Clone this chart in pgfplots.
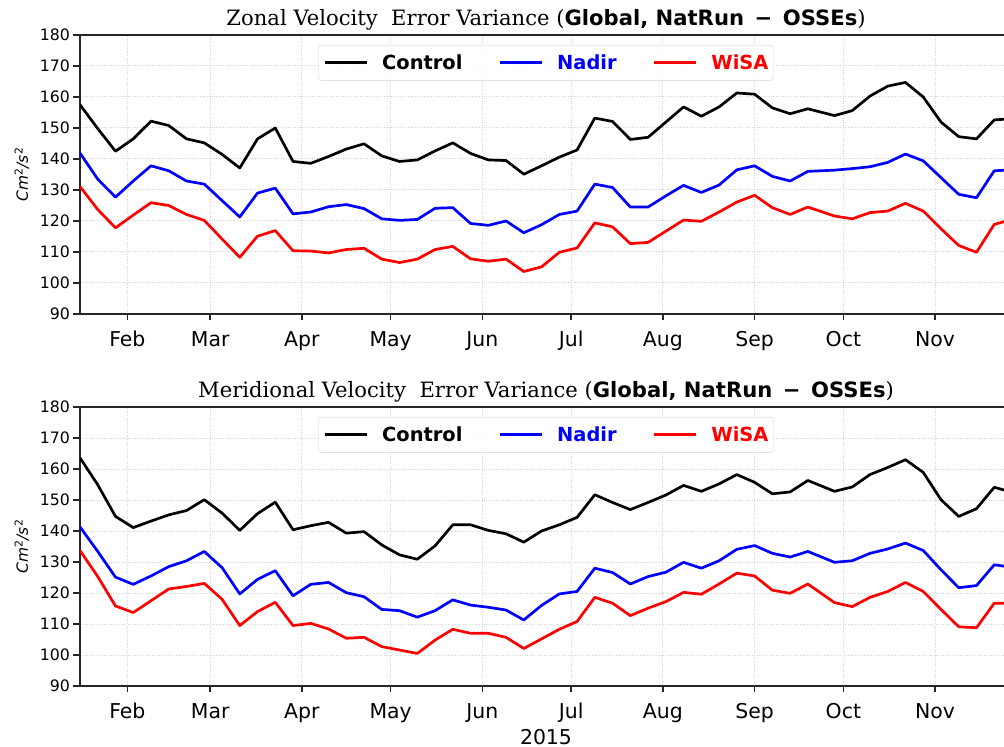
\documentclass[border=0pt]{standalone}
\usepackage{fontspec}
\setmainfont{DejaVu Sans}
\newfontfamily\seriffont{DejaVu Serif}
\usepackage{pgfplots}
\pgfplotsset{compat=1.18}
\usepackage{pgfplotstable}

\pgfplotstableread{
day C N W
16 157.5 141.9 131.1
22 149.8 133.5 123.7
28 142.5 127.7 117.8
34 146.5 132.9 121.9
40 152.2 137.8 125.9
46 150.8 136.2 125.0
52 146.5 132.9 122.1
58 145.2 131.9 120.2
64 141.5 126.6 114.2
70 137.1 121.3 108.3
76 146.5 129.0 115.1
82 150.0 130.6 116.9
88 139.2 122.3 110.4
94 138.6 122.9 110.3
100 140.8 124.6 109.7
106 143.2 125.3 110.8
112 144.9 124.0 111.2
118 141.0 120.7 107.7
124 139.2 120.2 106.6
130 139.7 120.5 107.7
136 142.6 124.1 110.8
142 145.2 124.3 111.8
148 141.8 119.2 107.8
154 139.7 118.6 107.0
160 139.5 120.0 107.7
166 135.1 116.2 103.7
172 137.8 118.8 105.2
178 140.6 122.1 109.9
184 142.9 123.2 111.3
190 153.2 131.9 119.4
196 152.1 130.8 118.1
202 146.3 124.5 112.7
208 147.0 124.5 113.1
214 151.9 128.1 116.7
220 156.8 131.5 120.3
226 153.8 129.2 119.9
232 156.8 131.6 122.9
238 161.3 136.5 126.1
244 160.9 137.8 128.3
250 156.5 134.4 124.3
256 154.6 132.9 122.1
262 156.2 136.0 124.5
271 154.0 136.4 121.6
277 155.6 136.9 120.7
283 160.3 137.5 122.7
289 163.5 138.9 123.2
295 164.7 141.6 125.7
301 160.0 139.4 123.2
307 151.9 134.0 117.5
313 147.2 128.6 112.1
319 146.5 127.5 109.9
325 152.6 136.2 118.9
331 153.0 136.5 120.5
}\zonal

\pgfplotstableread{
day C N W
16 163.6 141.3 133.7
22 154.9 133.4 125.3
28 144.7 125.1 115.8
34 141.1 122.8 113.7
40 143.2 125.5 117.5
46 145.2 128.5 121.3
52 146.6 130.4 122.1
58 150.1 133.4 123.1
64 145.8 128.2 118.0
70 140.2 119.7 109.5
76 145.6 124.4 114.0
82 149.3 127.2 117.0
88 140.4 119.1 109.5
94 141.7 122.8 110.2
100 142.8 123.4 108.4
106 139.3 120.1 105.4
112 139.8 118.8 105.7
118 135.5 114.7 102.7
124 132.3 114.3 101.6
130 130.9 112.2 100.5
136 135.2 114.3 104.8
142 142.0 117.8 108.3
148 142.0 116.1 107.0
154 140.2 115.4 107.0
160 139.1 114.5 105.7
166 136.4 111.3 102.1
172 140.0 116.0 105.2
178 142.0 119.7 108.3
184 144.4 120.5 110.8
190 151.7 128.0 118.6
196 149.2 126.6 116.7
202 146.9 122.9 112.7
208 149.2 125.3 115.1
214 151.6 126.7 117.2
220 154.7 129.9 120.2
226 152.8 128.0 119.6
232 155.2 130.4 122.9
238 158.2 134.1 126.4
244 155.7 135.3 125.5
250 152.0 132.8 120.9
256 152.6 131.6 119.9
262 156.3 133.4 122.9
271 152.8 129.9 116.9
277 154.2 130.4 115.6
283 158.2 132.8 118.6
289 160.5 134.2 120.5
295 163.0 136.1 123.4
301 158.9 133.7 120.5
307 150.1 127.5 114.7
313 144.7 121.7 109.1
319 147.2 122.4 108.8
325 154.1 129.1 116.7
331 152.5 128.3 116.7
}\meridional

\pgfplotsset{
  panel/.style={
    scale only axis, width=932bp, height=279bp,
    xmin=16, xmax=331, ymin=90, ymax=180,
    xtick={32,60,91,121,152,182,213,244,274,305},
    xticklabels={Feb,Mar,Apr,May,Jun,Jul,Aug,Sep,Oct,Nov},
    ytick={90,100,...,180},
    grid=major,
    grid style={dotted, black!17, line width=1bp},
    tick align=outside, tick pos=left,
    major tick length=6.5bp,
    axis line style={black!85, line width=1.3bp},
    every tick/.style={black!85, line width=1.5bp},
    /pgf/number format/assume math mode=true,
    xticklabel style={font=\fontsize{20.5}{24}\selectfont, anchor=base, yshift=-26bp},
    yticklabel style={font=\fontsize{15.8}{19}\selectfont},
    ylabel={\itshape Cm\textsuperscript{\upshape 2}/s\textsuperscript{\upshape 2}},
    ylabel style={font=\fontsize{15.5}{18}\selectfont, at={(axis description cs:-0.0622,0.5)}, anchor=center},
    title style={font=\fontsize{21.2}{25}\selectfont, at={(axis description cs:0.5,1)}, anchor=base, yshift=3.5bp},
    legend columns=3,
    legend style={at={(axis description cs:0.5,0.9642)}, anchor=north,
      draw=black!18, rounded corners=3bp, fill=white, fill opacity=0.85, text opacity=1,
      font=\fontsize{19.5}{23}\selectfont\bfseries,
      inner xsep=5bp, inner ysep=9.5bp,
      nodes={inner sep=0bp},
      /tikz/every odd column/.append style={column sep=14bp},
      /tikz/every even column/.append style={column sep=36bp}},
    legend image code/.code={\draw[#1] (0bp,0bp) -- (42bp,0bp);},
    every axis plot/.append style={line width=2.7bp, line join=round},
  }
}

\begin{document}
\begin{tikzpicture}
\begin{axis}[panel, at={(80bp,433bp)}, anchor=south west,
  title={{\seriffont Zonal Velocity\ \ Error Variance (}\textbf{Global, NatRun\hspace{0.5em}−\hspace{0.5em}OSSEs}{\seriffont )}}]
\addplot[black] table[x=day, y=C] {\zonal};
\addlegendentry{\textcolor{black}{Control}}
\addplot[blue] table[x=day, y=N] {\zonal};
\addlegendentry{\textcolor{blue}{Nadir}}
\addplot[red] table[x=day, y=W] {\zonal};
\addlegendentry{\textcolor{red}{WiSA}}
\end{axis}
\begin{axis}[panel, at={(80bp,61bp)}, anchor=south west,
  title={{\seriffont Meridional Velocity\ \ Error Variance (}\textbf{Global, NatRun\hspace{0.5em}−\hspace{0.5em}OSSEs}{\seriffont )}},
  xlabel={2015},
  xlabel style={font=\fontsize{20.5}{24}\selectfont, inner sep=0pt, at={(axis description cs:0.5,0)}, anchor=base, yshift=-58bp}]
\addplot[black] table[x=day, y=C] {\meridional};
\addlegendentry{\textcolor{black}{Control}}
\addplot[blue] table[x=day, y=N] {\meridional};
\addlegendentry{\textcolor{blue}{Nadir}}
\addplot[red] table[x=day, y=W] {\meridional};
\addlegendentry{\textcolor{red}{WiSA}}
\end{axis}
\pgfresetboundingbox
\useasboundingbox (0,0) rectangle (1004bp,747bp);
\end{tikzpicture}
\end{document}
